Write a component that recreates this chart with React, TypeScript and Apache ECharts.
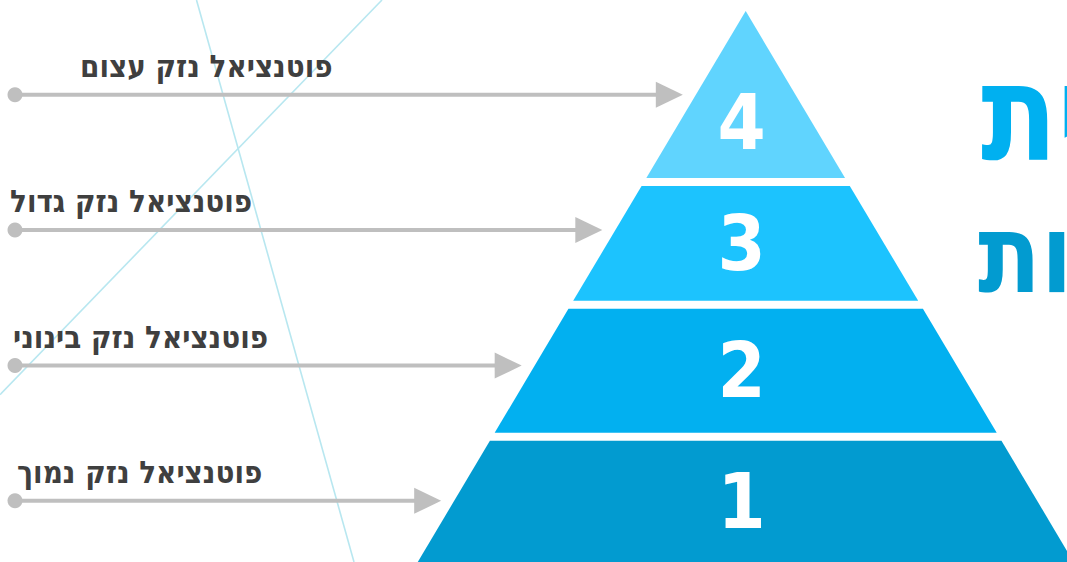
import React, { useEffect, useRef } from "react";
import * as echarts from "echarts";

// ---- data ----
const levels = ["1", "2", "3", "4"];
const levelLabels = [
  "פוטנציאל נזק נמוך",
  "פוטנציאל נזק בינוני",
  "פוטנציאל נזק גדול",
  "פוטנציאל נזק עצום",
];
// band extent of each level on the pyramid's height scale (0 = base, 100 = apex)
const bandBottom = [0, 23.45, 47.4, 69.7];
const bandTop = [22, 45.95, 68.25, 100];
// height (same scale) at which each label's arrow points at the pyramid
const arrowLevel = [11.1, 35.65, 60.25, 84.8];
const headingLines = ["ית", "ות"];

// ---- styles / layout ----
const levelColors = ["#029bd0", "#02b0f0", "#1cc3fe", "#60d4fe"];
const labelIndent = [17, 13, 10, 80];
const APEX = 100;
const SLOPE = 0.595;
const X_MIN = -135.3;
const X_MAX = 58.3;
const Y_MAX = 102;
const ARROW_COLOR = "#bfbfbf";
const FONT = "'DejaVu Sans Condensed', 'DejaVu Sans', sans-serif";

export default function App() {
  const ref = useRef<HTMLDivElement>(null);
  useEffect(() => {
    document.body.style.margin = "0";
    const chart = echarts.init(ref.current!, null, { renderer: "svg" });
    const hw = (v: number) => SLOPE * (APEX - v);

    chart.setOption({
      animation: false,
      backgroundColor: "#ffffff",
      grid: { left: 0, right: 0, top: 0, bottom: 0 },
      xAxis: { type: "value", min: X_MIN, max: X_MAX, show: false },
      yAxis: { type: "value", min: 0, max: Y_MAX, show: false },
      graphic: [
        {
          type: "line",
          z: 0,
          silent: true,
          shape: { x1: 196.5, y1: 0, x2: 354, y2: 562 },
          style: { stroke: "#b8e7f0", lineWidth: 1.6 },
        },
        {
          type: "line",
          z: 0,
          silent: true,
          shape: { x1: 382, y1: 0, x2: 0, y2: 394.6 },
          style: { stroke: "#b8e7f0", lineWidth: 1.6 },
        },
        {
          type: "text",
          z: 10,
          x: 981,
          y: 114,
          scaleX: 0.92,
          style: {
            text: headingLines[0],
            fill: "#00b0f0",
            fontSize: 135,
            fontWeight: "bold",
            fontFamily: FONT,
            align: "left",
            verticalAlign: "middle",
          },
        },
        {
          type: "text",
          z: 10,
          x: 978,
          y: 254,
          scaleX: 0.93,
          style: {
            text: headingLines[1],
            fill: "#029bd0",
            fontSize: 110,
            fontWeight: "bold",
            fontFamily: FONT,
            align: "left",
            verticalAlign: "middle",
          },
        },
      ],
      series: [
        {
          type: "custom",
          name: "pyramid",
          coordinateSystem: "cartesian2d",
          silent: true,
          z: 3,
          data: levels.map((_, i) => [0, bandBottom[i], bandTop[i]]),
          renderItem: (params: any, api: any) => {
            const i = params.dataIndex;
            const b = api.value(1) as number;
            const t = api.value(2) as number;
            const pts = [
              [-hw(b), b],
              [hw(b), b],
              [hw(t), t],
              [-hw(t), t],
            ].map((p) => api.coord(p));
            const midV = t >= APEX ? b + (t - b) / 3 : (b + t) / 2;
            const c = api.coord([0, midV]);
            return {
              type: "group",
              children: [
                {
                  type: "polygon",
                  shape: { points: pts },
                  style: { fill: levelColors[i] },
                },
                {
                  type: "text",
                  x: c[0] - 4,
                  y: c[1],
                  style: {
                    text: levels[i],
                    fill: "#ffffff",
                    fontSize: 77,
                    fontWeight: "bold",
                    fontFamily: FONT,
                    align: "center",
                    verticalAlign: "middle",
                  },
                },
              ],
            };
          },
        },
        {
          type: "custom",
          name: "labels",
          coordinateSystem: "cartesian2d",
          silent: true,
          z: 4,
          data: levels.map((_, i) => [0, arrowLevel[i]]),
          renderItem: (params: any, api: any) => {
            const i = params.dataIndex;
            const yv = api.value(1) as number;
            const py = api.coord([0, yv])[1];
            const edgeX = api.coord([-hw(yv), yv])[0];
            const tipX = edgeX - 13;
            const startX = params.coordSys.x + 15;
            const headLen = 27;
            const headHalf = 13;
            return {
              type: "group",
              children: [
                {
                  type: "line",
                  shape: { x1: startX, y1: py, x2: tipX - headLen + 1, y2: py },
                  style: { stroke: ARROW_COLOR, lineWidth: 4 },
                },
                {
                  type: "circle",
                  shape: { cx: startX, cy: py, r: 7.5 },
                  style: { fill: ARROW_COLOR },
                },
                {
                  type: "polygon",
                  shape: {
                    points: [
                      [tipX, py],
                      [tipX - headLen, py - headHalf],
                      [tipX - headLen, py + headHalf],
                    ],
                  },
                  style: { fill: ARROW_COLOR },
                },
                {
                  type: "text",
                  x: params.coordSys.x + labelIndent[i],
                  y: py - 29,
                  style: {
                    text: levelLabels[i],
                    fill: "#3f3f3f",
                    fontSize: 31,
                    fontWeight: "bold",
                    fontFamily: FONT,
                    align: "left",
                    verticalAlign: "middle",
                  },
                },
              ],
            };
          },
        },
      ],
    });
    return () => chart.dispose();
  }, []);
  return <div ref={ref} style={{ width: 1067, height: 562 }} />;
}
